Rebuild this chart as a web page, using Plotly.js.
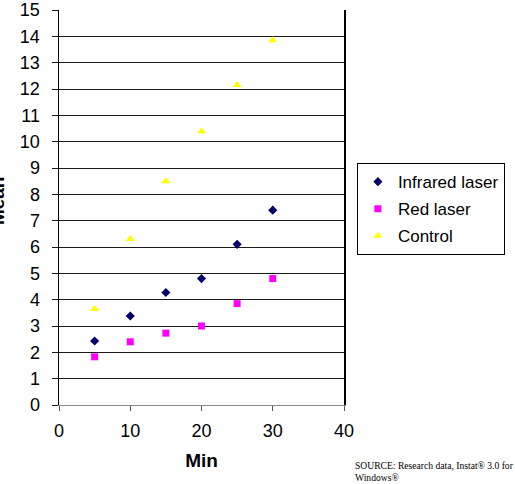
<!DOCTYPE html>
<html>
<head>
<meta charset="utf-8">
<script src="https://cdn.plot.ly/plotly-3.0.1.min.js"></script>
<style>html,body{margin:0;padding:0;background:#fff;}#chart{width:515px;height:484px;}</style>
</head>
<body>
<div id="chart"></div>
<script>
var minutes = [5, 10, 15, 20, 25, 30];
var infrared = [2.43, 3.38, 4.27, 4.8, 6.1, 7.4];
var redLaser = [1.83, 2.4, 2.73, 3.0, 3.85, 4.8];
var control = [3.65, 6.3, 8.5, 10.4, 12.15, 13.85];
var seriesNames = ["Infrared laser", "Red laser", "Control"];
var xTicks = [0, 10, 20, 30, 40];
var yTicks = [0,1,2,3,4,5,6,7,8,9,10,11,12,13,14,15];

var traces = [
  {x: minutes, y: infrared, name: seriesNames[0], mode: "markers", type: "scatter", legendgroup: "a",
   marker: {symbol: "diamond", color: "#000066", size: 7}},
  {x: minutes, y: redLaser, name: seriesNames[1], mode: "markers", type: "scatter", legendgroup: "b",
   marker: {symbol: "square", color: "#ff00ff", size: 7}},
  {x: minutes, y: control, name: seriesNames[2], mode: "markers", type: "scatter", legendgroup: "c",
   marker: {symbol: "triangle-up", color: "#ffff00", size: 8}}
];

var layout = {
  width: 515, height: 484,
  margin: {l: 59, r: 171, t: 10, b: 79, pad: 0},
  paper_bgcolor: "#fff", plot_bgcolor: "#fff",
  font: {family: "Arial, Liberation Sans, sans-serif", color: "#000", size: 18},
  showlegend: true,
  legend: {xref: "container", yref: "container", x: 0.693, y: 0.663, xanchor: "left", yanchor: "top",
    bordercolor: "#000", borderwidth: 1, bgcolor: "#fff",
    font: {size: 17, color: "#000"}, traceorder: "grouped", tracegroupgap: 2},
  xaxis: {range: [0, 40], tickvals: xTicks, ticktext: xTicks.map(String), automargin: false,
    showgrid: false, zeroline: false, showline: true, linecolor: "#888", linewidth: 1,
    ticks: "outside", ticklen: 5, tickcolor: "#555", ticklabelstandoff: 4,
    title: {text: "<b>Min</b>", font: {size: 19}, standoff: 14}},
  yaxis: {range: [0, 15], tickvals: yTicks, ticktext: yTicks.map(String), automargin: false,
    showgrid: true, gridcolor: "#1a1a1a", gridwidth: 1, zeroline: false,
    showline: true, mirror: true, linecolor: "#000", linewidth: 1.5,
    ticks: "outside", ticklen: 6, tickcolor: "#1a1a1a", ticklabelstandoff: 8,
    title: {text: ""}},
  annotations: [
    {text: "<b>Mean</b>", xref: "paper", yref: "paper", x: -0.215, y: 0.518,
     xanchor: "center", yanchor: "middle", textangle: -90, showarrow: false,
     font: {size: 19, color: "#000"}},
    {text: "SOURCE: Research data, Instat® 3.0 for<br>Windows®", xref: "paper", yref: "paper",
     x: 1.032, y: -0.135, xanchor: "left", yanchor: "top", align: "left", showarrow: false,
     font: {family: "Liberation Serif, DejaVu Serif, serif", size: 9.6, color: "#000"}}
  ]
};

Plotly.newPlot("chart", traces, layout, {displayModeBar: false, staticPlot: true});
</script>
</body>
</html>
